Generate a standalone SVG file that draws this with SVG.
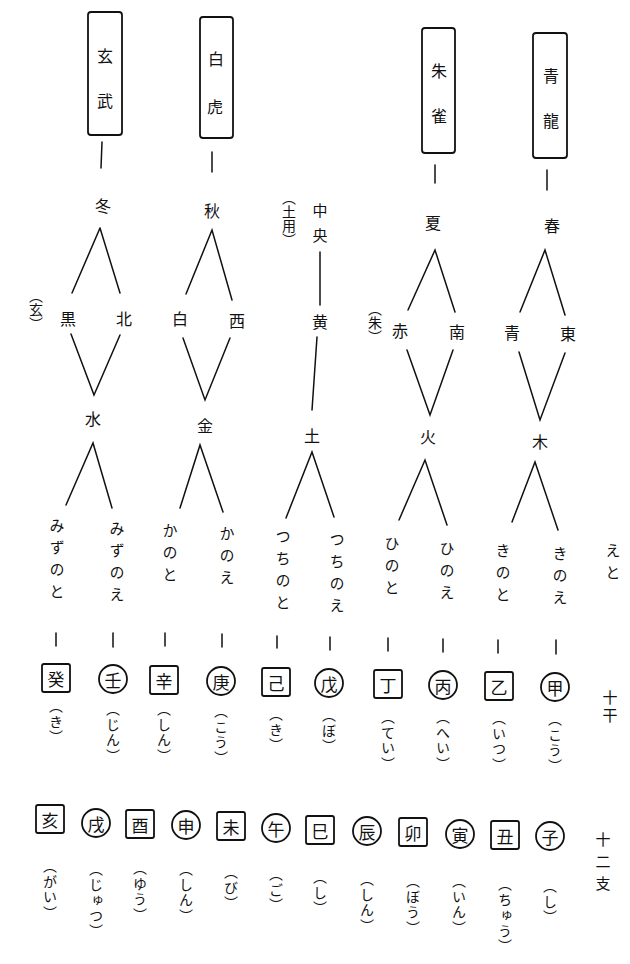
<svg xmlns="http://www.w3.org/2000/svg" width="630" height="964" viewBox="0 0 630 964">
<style>
text{font-family:"Noto Sans CJK JP","Noto Sans CJK SC",sans-serif;fill:#111;}
.k{font-size:16px;text-anchor:middle;dominant-baseline:central;}
.v{font-size:14px;writing-mode:vertical-rl;text-anchor:start;}
.kv{font-size:15px;writing-mode:vertical-rl;text-anchor:start;letter-spacing:7px;}
.r{font-size:14px;writing-mode:vertical-rl;text-anchor:start;letter-spacing:1.5px;}
.s{font-size:17px;text-anchor:middle;dominant-baseline:central;}
.ln{stroke:#111;stroke-width:1.5;fill:none;stroke-linecap:round;}
.bx{stroke:#111;stroke-width:1.8;fill:#fff;}
</style>
<rect width="630" height="964" fill="#fff"/>

<g id="connectors" class="ln">
<path d="M102,142L101,168"/><path d="M100,228L72,293M100,228L120,293"/><path d="M71,334L94,395L120,335"/><path d="M66,505L93,443L112,508"/>
<path d="M212,152L212,172"/><path d="M186,294L212,230L232,300"/><path d="M183,338L205,400L230,338"/><path d="M180,508L200,445L223,512"/>
<path d="M320,252L320,305"/><path d="M317,337L312,410"/><path d="M286,518L312,452L334,517"/>
<path d="M435,165L435,183"/><path d="M408,310L435,250L455,312"/><path d="M407,350L430,415L453,350"/><path d="M399,520L425,460L447,525"/>
<path d="M547,170L547,190"/><path d="M520,312L545,250L565,315"/><path d="M519,352L540,420L565,353"/><path d="M512,522L535,462L558,530"/>
<path d="M56,633L56,646M113,633L113,647M165,633L165,646M222,634L222,647M277,636L277,648M330,637L330,650M388,638L388,651M443,639L443,652M498,640L498,653M556,640L556,654"/>
</g>

<g id="n-genbu"><rect class="bx" x="88" y="12" width="34" height="123" rx="3"/><text class="k" x="105" y="55">玄</text><text class="k" x="105" y="100">武</text></g>
<g id="n-byakko"><rect class="bx" x="200" y="17" width="33" height="121" rx="3"/><text class="k" x="216" y="58">白</text><text class="k" x="215" y="106">虎</text></g>
<g id="n-suzaku"><rect class="bx" x="422" y="28" width="33" height="125" rx="3"/><text class="k" x="439" y="70">朱</text><text class="k" x="439" y="115">雀</text></g>
<g id="n-seiryu"><rect class="bx" x="533" y="33" width="34" height="125" rx="3"/><text class="k" x="551" y="75">青</text><text class="k" x="551" y="120">龍</text></g>

<g id="n-fuyu"><text class="k" x="103" y="205">冬</text></g>
<g id="n-aki"><text class="k" x="212" y="210">秋</text></g>
<g id="n-chuo"><text class="kv" x="320" y="203" style="letter-spacing:10px">中央</text><text class="v" x="289" y="191">（土用）</text></g>
<g id="n-natsu"><text class="k" x="433" y="222">夏</text></g>
<g id="n-haru"><text class="k" x="552" y="225">春</text></g>

<g id="n-kuro"><text class="k" x="68" y="318">黒</text><text class="v" x="36" y="289">（玄）</text></g>
<g id="n-kita"><text class="k" x="124" y="318">北</text></g>
<g id="n-shiro"><text class="k" x="180" y="318">白</text></g>
<g id="n-nishi"><text class="k" x="237" y="320">西</text></g>
<g id="n-ki"><text class="k" x="320" y="321">黄</text></g>
<g id="n-aka"><text class="k" x="400" y="330">赤</text><text class="v" x="375" y="302">（朱）</text></g>
<g id="n-minami"><text class="k" x="457" y="331">南</text></g>
<g id="n-ao"><text class="k" x="512" y="332">青</text></g>
<g id="n-higashi"><text class="k" x="568" y="333">東</text></g>

<g id="n-mizu"><text class="k" x="93" y="418">水</text></g>
<g id="n-kane"><text class="k" x="205" y="425">金</text></g>
<g id="n-tsuchi"><text class="k" x="312" y="435">土</text></g>
<g id="n-hi"><text class="k" x="428" y="436">火</text></g>
<g id="n-moku"><text class="k" x="540" y="441">木</text></g>

<g id="n-mizunoto"><text class="kv" x="57" y="518">みずのと</text></g>
<g id="n-mizunoe"><text class="kv" x="117" y="521">みずのえ</text></g>
<g id="n-kanoto"><text class="kv" x="170" y="523">かのと</text></g>
<g id="n-kanoe"><text class="kv" x="227" y="526">かのえ</text></g>
<g id="n-tsuchinoto"><text class="kv" x="283" y="529">つちのと</text></g>
<g id="n-tsuchinoe"><text class="kv" x="337" y="532">つちのえ</text></g>
<g id="n-hinoto"><text class="kv" x="392" y="536">ひのと</text></g>
<g id="n-hinoe"><text class="kv" x="447" y="541">ひのえ</text></g>
<g id="n-kinoto"><text class="kv" x="503" y="543">きのと</text></g>
<g id="n-kinoe"><text class="kv" x="560" y="546">きのえ</text></g>
<g id="n-eto"><text class="kv" x="613" y="543">えと</text></g>

<g id="n-stem-ki"><rect class="bx" x="42" y="664" width="28" height="28" rx="2"/><text class="s" x="56" y="678">癸</text><text class="r" x="56" y="699">（き）</text></g>
<g id="n-stem-jin"><circle class="bx" cx="113" cy="679" r="14"/><text class="s" x="113" y="679">壬</text><text class="r" x="113" y="702">（じん）</text></g>
<g id="n-stem-shin"><rect class="bx" x="150" y="666" width="28" height="28" rx="2"/><text class="s" x="164" y="680">辛</text><text class="r" x="164" y="702">（しん）</text></g>
<g id="n-stem-ko1"><circle class="bx" cx="221" cy="681" r="14"/><text class="s" x="221" y="681">庚</text><text class="r" x="221" y="704">（こう）</text></g>
<g id="n-stem-ki2"><rect class="bx" x="262" y="668" width="28" height="28" rx="2"/><text class="s" x="276" y="682">己</text><text class="r" x="276" y="707">（き）</text></g>
<g id="n-stem-bo"><circle class="bx" cx="329" cy="683" r="14"/><text class="s" x="329" y="683">戊</text><text class="r" x="329" y="708">（ぼ）</text></g>
<g id="n-stem-tei"><rect class="bx" x="374" y="670" width="28" height="28" rx="2"/><text class="s" x="388" y="684">丁</text><text class="r" x="388" y="710">（てい）</text></g>
<g id="n-stem-hei"><circle class="bx" cx="443" cy="685" r="14"/><text class="s" x="443" y="685">丙</text><text class="r" x="443" y="710">（へい）</text></g>
<g id="n-stem-itsu"><rect class="bx" x="485" y="672" width="28" height="28" rx="2"/><text class="s" x="499" y="686">乙</text><text class="r" x="499" y="711">（いつ）</text></g>
<g id="n-stem-ko2"><circle class="bx" cx="555" cy="687" r="14"/><text class="s" x="555" y="687">甲</text><text class="r" x="555" y="712">（こう）</text></g>
<g id="n-jikkan"><text class="kv" x="610" y="690" style="letter-spacing:3px">十干</text></g>

<g id="n-br-gai"><rect class="bx" x="36" y="805" width="28" height="28" rx="2"/><text class="s" x="50" y="819">亥</text><text class="r" x="50" y="859">（がい）</text></g>
<g id="n-br-jutsu"><circle class="bx" cx="96" cy="823" r="14"/><text class="s" x="96" y="823">戌</text><text class="r" x="96" y="862">（じゅつ）</text></g>
<g id="n-br-yu"><rect class="bx" x="126" y="810" width="28" height="28" rx="2"/><text class="s" x="140" y="824">酉</text><text class="r" x="140" y="861">（ゆう）</text></g>
<g id="n-br-shin"><circle class="bx" cx="186" cy="825" r="14"/><text class="s" x="186" y="825">申</text><text class="r" x="186" y="862">（しん）</text></g>
<g id="n-br-bi"><rect class="bx" x="217" y="812" width="28" height="28" rx="2"/><text class="s" x="231" y="826">未</text><text class="r" x="231" y="865">（び）</text></g>
<g id="n-br-go"><circle class="bx" cx="276" cy="828" r="14"/><text class="s" x="276" y="828">午</text><text class="r" x="276" y="867">（ご）</text></g>
<g id="n-br-shi"><rect class="bx" x="306" y="816" width="28" height="28" rx="2"/><text class="s" x="320" y="830">巳</text><text class="r" x="320" y="870">（し）</text></g>
<g id="n-br-shin2"><circle class="bx" cx="367" cy="831" r="14"/><text class="s" x="367" y="831">辰</text><text class="r" x="367" y="872">（しん）</text></g>
<g id="n-br-bo"><rect class="bx" x="399" y="818" width="28" height="28" rx="2"/><text class="s" x="413" y="832">卯</text><text class="r" x="413" y="874">（ぼう）</text></g>
<g id="n-br-in"><circle class="bx" cx="460" cy="834" r="14"/><text class="s" x="460" y="834">寅</text><text class="r" x="459" y="874">（いん）</text></g>
<g id="n-br-chu"><rect class="bx" x="491" y="821" width="28" height="28" rx="2"/><text class="s" x="505" y="835">丑</text><text class="r" x="505" y="877">（ちゅう）</text></g>
<g id="n-br-shi2"><circle class="bx" cx="550" cy="836" r="14"/><text class="s" x="550" y="836">子</text><text class="r" x="550" y="879">（し）</text></g>
<g id="n-junishi"><text class="kv" x="603" y="832" style="letter-spacing:7px">十二支</text></g>
</svg>
